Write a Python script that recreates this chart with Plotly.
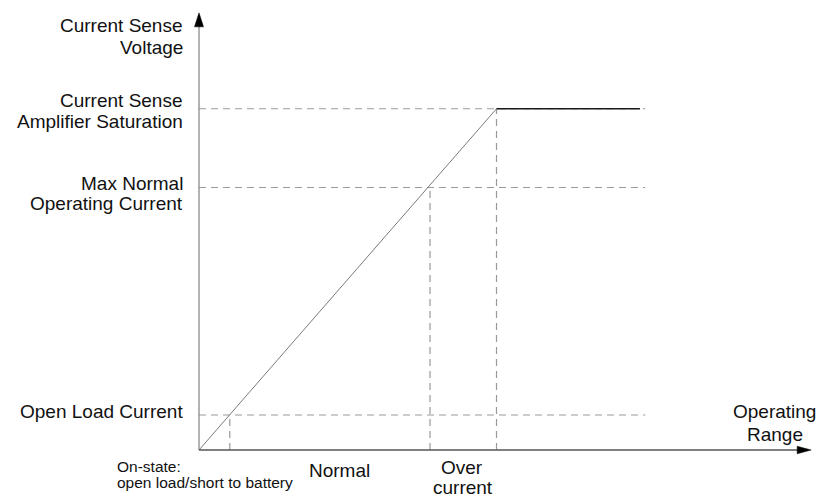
import plotly.graph_objects as go

# ---- data (abstract units: operating range on x, current-sense voltage on y) ----
level_names = ["Open Load Current", "Max Normal Operating Current", "Current Sense Amplifier Saturation"]
level_y = [1.0, 7.5, 9.75]          # sense voltage at each level
level_x = [0.88, 6.6, 8.5]          # operating point where each level is reached
saturation_end_x = 12.6             # end of the saturated plateau
guide_end_x = 12.75                 # end of horizontal dashed guides
x_axis_end = 17.49                  # arrow tip of operating range axis
y_axis_end = 12.49                  # arrow tip of current sense voltage axis

X_RANGE = [-5.6857, 17.714]
Y_RANGE = [-1.3429, 12.857]
W, H = 819, 497

def px(xp):
    return xp / W

def py(yp):
    return 1 - yp / H

fig = go.Figure()

guide_color = "#9a9a9a"
dash = "7px,5px"

# horizontal dashed guides
for y in level_y:
    fig.add_trace(go.Scatter(x=[0, guide_end_x], y=[y, y], mode="lines",
                             line=dict(color=guide_color, width=1.2, dash=dash),
                             hoverinfo="skip"))
# vertical dashed guides
for x, y in zip(level_x, level_y):
    fig.add_trace(go.Scatter(x=[x, x], y=[0, y], mode="lines",
                             line=dict(color=guide_color, width=1.2, dash=dash),
                             hoverinfo="skip"))

# response: linear rise then saturation
fig.add_trace(go.Scatter(x=[0, level_x[2]], y=[0, level_y[2]], mode="lines",
                         line=dict(color="#7a7a7a", width=1), hoverinfo="skip"))
fig.add_trace(go.Scatter(x=[level_x[2], saturation_end_x], y=[level_y[2], level_y[2]], mode="lines",
                         line=dict(color="#1a1a1a", width=1.6), hoverinfo="skip"))

# axes
fig.add_trace(go.Scatter(x=[0, 0], y=[0, y_axis_end - 0.3], mode="lines",
                         line=dict(color="#8a8a8a", width=1.3), hoverinfo="skip"))
fig.add_trace(go.Scatter(x=[0, x_axis_end - 0.3], y=[0, 0], mode="lines",
                         line=dict(color="#555555", width=1.3), hoverinfo="skip"))

# arrowheads (pixel-sized shapes anchored on axis ends)
fig.add_shape(type="path", xref="x", yref="y", xsizemode="pixel", ysizemode="pixel",
              xanchor=0, yanchor=y_axis_end, path="M0,0 L-4.5,-14 L4.5,-14 Z",
              fillcolor="#000000", line=dict(color="#000000", width=0.5))
fig.add_shape(type="path", xref="x", yref="y", xsizemode="pixel", ysizemode="pixel",
              xanchor=x_axis_end, yanchor=0, path="M0,0 L-14,3.8 L-14,-3.8 Z",
              fillcolor="#000000", line=dict(color="#000000", width=0.5))

FONT = "Liberation Sans, Arial, sans-serif"
big = dict(family=FONT, size=19, color="#111111")
small = dict(family=FONT, size=15.5, color="#111111")

def label(text, x, y, xanchor, font):
    fig.add_annotation(text=text, x=px(x), y=py(y), xref="paper", yref="paper",
                       xanchor=xanchor, yanchor="middle", showarrow=False, font=font,
                       borderpad=0)

# y-axis labels (right aligned)
label("Current Sense", 184, 25, "right", big)
label("Voltage", 184, 48, "right", big)
label("Current Sense", 184, 100, "right", big)
label("Amplifier Saturation", 184, 121, "right", big)
label("Max Normal", 184, 183, "right", big)
label("Operating Current", 184, 203, "right", big)
label("Open Load Current", 184, 411, "right", big)

# x-axis labels
label("On-state:", 116, 466, "left", small)
label("open load/short to battery", 116, 482, "left", small)
label("Normal", 339, 470, "center", big)
label("Over", 462, 467, "center", big)
label("current", 463, 487, "center", big)
label("Operating", 774, 411, "center", big)
label("Range", 775, 434, "center", big)

fig.update_layout(
    width=W, height=H, margin=dict(l=0, r=0, t=0, b=0),
    paper_bgcolor="white", plot_bgcolor="white", showlegend=False,
    xaxis=dict(range=X_RANGE, visible=False, fixedrange=True),
    yaxis=dict(range=Y_RANGE, visible=False, fixedrange=True),
)

fig.write_html("out.html", config={"displayModeBar": False},
               post_script="document.body.style.margin='0';document.body.style.overflow='hidden';")
